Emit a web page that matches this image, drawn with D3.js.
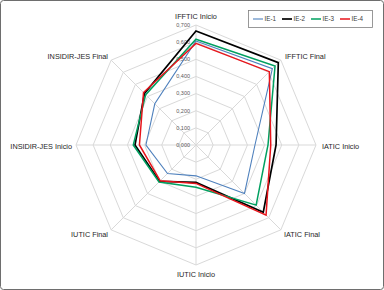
<!DOCTYPE html>
<html><head><meta charset="utf-8">
<script src="https://cdn.jsdelivr.net/npm/d3@7"></script>
<style>body{margin:0;background:#fff}svg{display:block}text{font-family:"Liberation Sans",Arial,sans-serif}</style>
</head><body><svg id="c" width="384" height="290"></svg>
<script>
const categories = ["IFFTIC Inicio","IFFTIC Final","IATIC Inicio","IATIC Final","IUTIC Inicio","IUTIC Final","INSIDIR-JES Inicio","INSIDIR-JES Final"];
const seriesNames = ["IE-1","IE-2","IE-3","IE-4"];
const ie1 = [0.607,0.630,0.344,0.400,0.180,0.235,0.292,0.340];
const ie2 = [0.665,0.679,0.467,0.555,0.218,0.300,0.356,0.425];
const ie3 = [0.617,0.652,0.420,0.496,0.247,0.305,0.366,0.415];
const ie4 = [0.593,0.605,0.436,0.578,0.224,0.295,0.330,0.433];
const tickValues = [0,0.1,0.2,0.3,0.4,0.5,0.6,0.7];
const tickLabels = ["0,000","0,100","0,200","0,300","0,400","0,500","0,600","0,700"];
const colors = ["#4F81BD","#000000","#00A060","#E8141B"];
const widths = [1.1,1.7,1.5,1.5];

const svg = d3.select("#c");
svg.append("rect").attr("x",0.5).attr("y",0.5).attr("width",383).attr("height",289).attr("rx",3)
  .attr("fill","#fff").attr("stroke","#6e6e6e").attr("stroke-width",1);
const cx=196, cy=145, R=120;
const r = d3.scaleLinear().domain([0,0.7]).range([0,R]);
const ang = d3.scaleLinear().domain([0,categories.length]).range([0,2*Math.PI]);
const pt=(i,v)=>[cx+r(v)*Math.sin(ang(i)), cy-r(v)*Math.cos(ang(i))];
const g = svg.append("g");
// grid rings
tickValues.slice(1).forEach(t=>{
  const pts = categories.map((c,i)=>pt(i,t));
  g.append("polygon").attr("points",pts.map(p=>p.join(",")).join(" "))
   .attr("fill","none").attr("stroke","#d9d9d9").attr("stroke-width",1);
});
categories.forEach((c,i)=>{
  const p=pt(i,0.7);
  g.append("line").attr("x1",cx).attr("y1",cy).attr("x2",p[0]).attr("y2",p[1])
   .attr("stroke","#d9d9d9").attr("stroke-width",1);
});
// tick labels
tickValues.forEach((t,k)=>{
  g.append("text").attr("x",cx-6).attr("y",cy-r(t)).attr("dy","0.35em")
   .attr("text-anchor","end").attr("font-size",5.5).attr("fill","#595959").text(tickLabels[k]);
});
// series
const line = d3.line().curve(d3.curveLinearClosed);
[ie1,ie2,ie3,ie4].forEach((s,k)=>{
  g.append("path").attr("d",line(s.map((v,i)=>pt(i,v))))
   .attr("fill","none").attr("stroke",colors[k]).attr("stroke-width",widths[k]).attr("stroke-linejoin","miter");
});
// category labels
const labelPos = [
  {x:196,y:16,a:"middle"},
  {x:285,y:56,a:"start"},
  {x:322,y:146,a:"start"},
  {x:284,y:234,a:"start"},
  {x:196,y:274,a:"middle"},
  {x:108,y:234,a:"end"},
  {x:72,y:146,a:"end"},
  {x:108,y:56,a:"end"}
];
categories.forEach((c,i)=>{
  svg.append("text").attr("x",labelPos[i].x).attr("y",labelPos[i].y).attr("dy","0.35em")
   .attr("text-anchor",labelPos[i].a).attr("font-size",7.3).attr("fill","#262626").text(c);
});
// legend
const lg = svg.append("g");
lg.append("rect").attr("x",248.5).attr("y",10.5).attr("width",124).attr("height",17)
  .attr("fill","#fff").attr("stroke","#7f7f7f").attr("stroke-width",0.8);
const lx = d3.scalePoint().domain(seriesNames).range([253,340]);
seriesNames.forEach((n,k)=>{
  const x=lx(n);
  lg.append("line").attr("x1",x).attr("x2",x+10).attr("y1",19).attr("y2",19)
    .attr("stroke",colors[k]).attr("stroke-width",widths[k]);
  lg.append("text").attr("x",x+11.5).attr("y",19).attr("dy","0.35em").attr("font-size",6.3)
    .attr("fill","#404040").text(n);
});
</script></body></html>
